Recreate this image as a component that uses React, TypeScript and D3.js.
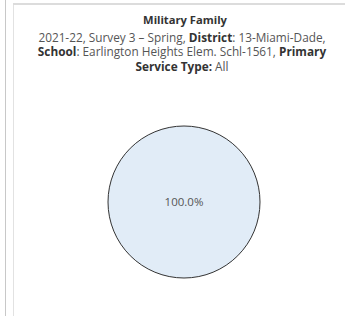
import React from 'react';
import * as d3 from 'd3';

const WIDTH = 345;
const HEIGHT = 316;

// one slice, everything falls in a single category
const categories = ['Military Family'];
const values = [100];

const title = 'Military Family';
// subtitle rows, each a list of [text, bold]
const subtitleRows: [string, boolean][][] = [
  [
    ['2021-22, Survey 3 – Spring, ', false],
    ['District', true],
    [': 13-Miami-Dade,', false],
  ],
  [
    ['School', true],
    [': Earlington Heights Elem. Schl-1561, ', false],
    ['Primary', true],
  ],
  [
    ['Service Type:', true],
    [' All', false],
  ],
];

const FONT = '"Open Sans", "Noto Sans", sans-serif';

const App = () => {
  const cx = 184;
  const cy = 202;
  const radius = 76;

  const pie = d3.pie<number>().sort(null).value((d) => d);
  const arcs = pie(values);
  const arc = d3.arc<d3.PieArcDatum<number>>().innerRadius(0).outerRadius(radius);
  const total = d3.sum(values);
  const fmt = d3.format('.1%');

  return (
    <svg
      width={WIDTH}
      height={HEIGHT}
      style={{ position: 'absolute', left: 0, top: 0, background: '#fff' }}
    >
      {/* panel borders */}
      <line x1={5.5} x2={5.5} y1={0} y2={HEIGHT} stroke="#c8c8c8" strokeWidth={1} />
      <line x1={13.5} x2={13.5} y1={4} y2={HEIGHT} stroke="#e2e2e2" strokeWidth={1} />
      <line x1={13} x2={WIDTH} y1={4} y2={4} stroke="#dcdcdc" strokeWidth={2} />

      <g fontFamily={FONT} textAnchor="middle">
        <text x={cx + 1} y={24} fontSize={11.2} fontWeight="bold" fill="#333">
          {title}
        </text>
        {subtitleRows.map((row, i) => (
          <text key={i} x={cx - 2} y={41.5 + i * 14.5} fontSize={11.8} fill="#555">
            {row.map(([t, b], j) => (
              <tspan key={j} fontWeight={b ? 'bold' : 'normal'} fill={b ? '#333' : '#555'}>
                {t}
              </tspan>
            ))}
          </text>
        ))}
      </g>

      <g transform={`translate(${cx},${cy})`}>
        {arcs.map((d, i) => (
          <path
            key={categories[i]}
            d={arc(d) as string}
            fill="#e1ecf7"
            stroke="#333"
            strokeWidth={1}
          />
        ))}
        {arcs.map((d, i) => (
          <text
            key={`l-${i}`}
            transform={values.length > 1 ? `translate(${arc.centroid(d)})` : undefined}
            textAnchor="middle"
            dy="0.35em"
            fontFamily={FONT}
            fontSize={11.5}
            fill="#555"
          >
            {fmt(d.data / total)}
          </text>
        ))}
      </g>
    </svg>
  );
};

export default App;
